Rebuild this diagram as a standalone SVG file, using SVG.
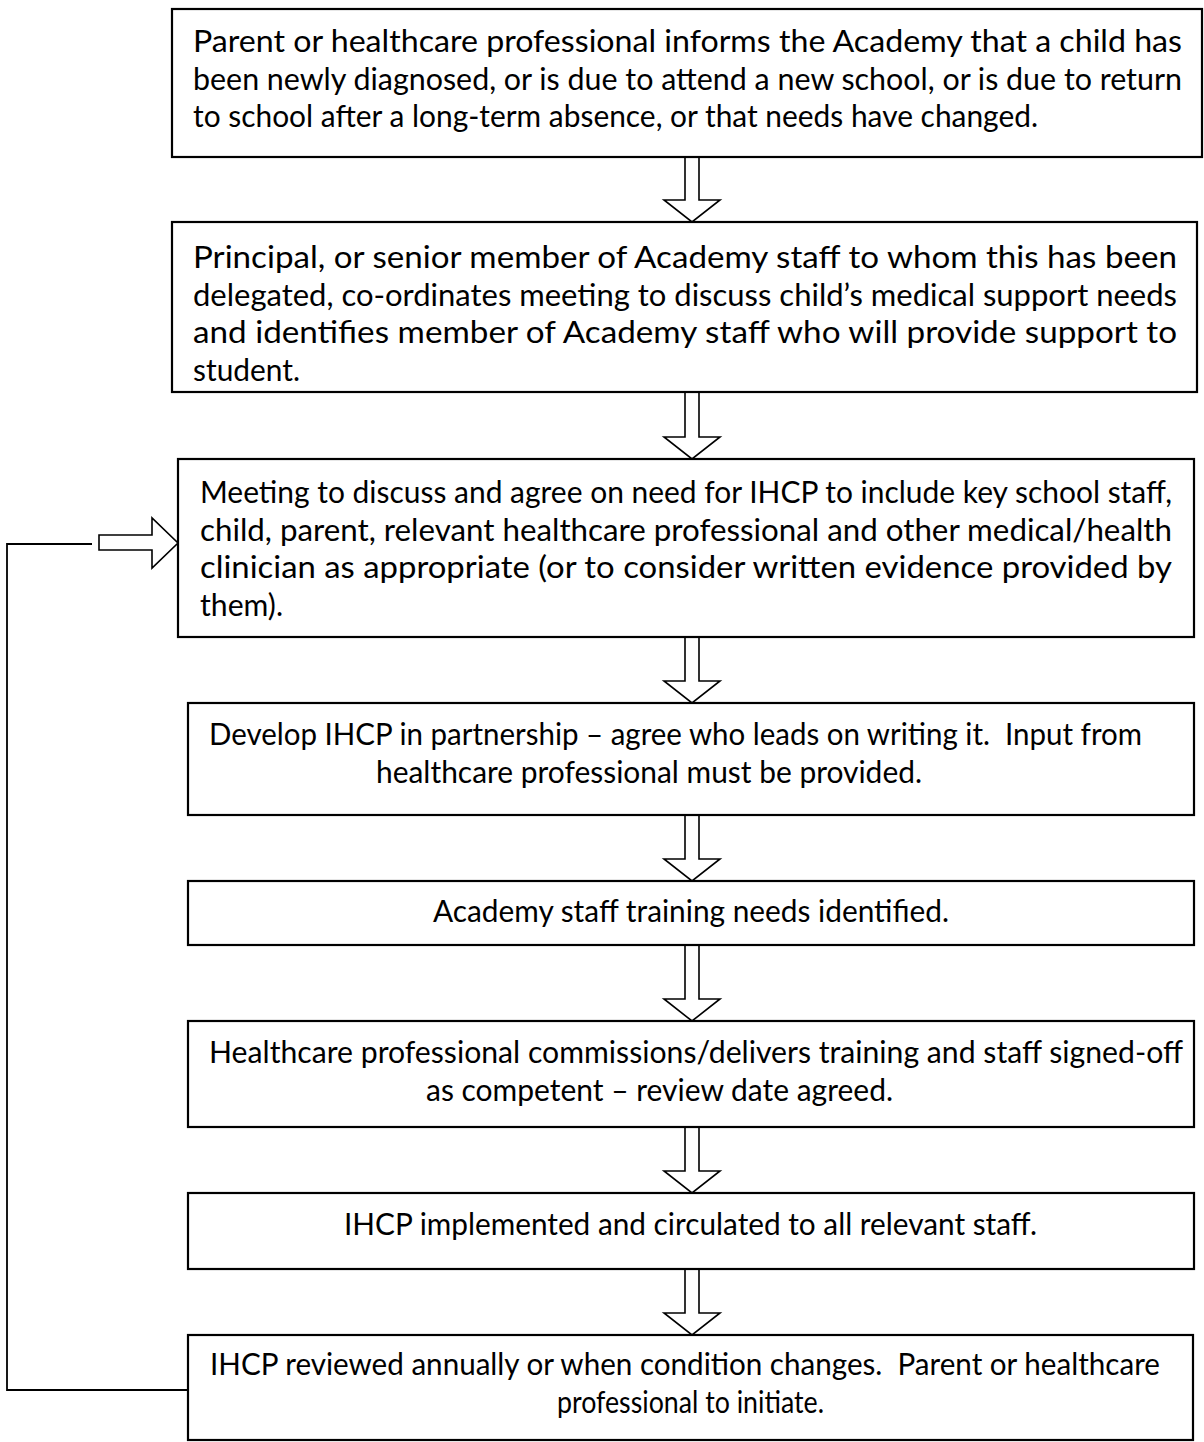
<svg xmlns="http://www.w3.org/2000/svg" width="1204" height="1442" viewBox="0 0 1204 1442">
<style>
.box{fill:#fff;stroke:#000;stroke-width:2.2}
.arr{fill:#fff;stroke:#000;stroke-width:1.6;stroke-linejoin:miter}
.ln{fill:none;stroke:#000;stroke-width:1.8}
text{font-family:Lato,"Liberation Sans",sans-serif;font-size:30px;fill:#000}
</style>
<rect width="1204" height="1442" fill="#fff"/>
<g id="connectors">
<path class="arr" d="M685,157 V200 H664 L692,222 L720,200 H699 V157"/>
<path class="arr" d="M685,392 V437 H664 L692,459 L720,437 H699 V392"/>
<path class="arr" d="M685,637 V681 H664 L692,703 L720,681 H699 V637"/>
<path class="arr" d="M685,815 V859 H664 L692,881 L720,859 H699 V815"/>
<path class="arr" d="M685,945 V999 H664 L692,1021 L720,999 H699 V945"/>
<path class="arr" d="M685,1127 V1171 H664 L692,1193 L720,1171 H699 V1127"/>
<path class="arr" d="M685,1269 V1313 H664 L692,1335 L720,1313 H699 V1269"/>
<polyline class="ln" points="188,1390 7,1390 7,544 92,544"/>
<path class="arr" d="M99,535 H152 V518 L178,543 L152,568 V550 H99 Z"/>
</g>
<g id="n1">
<rect class="box" x="172" y="9" width="1030" height="148"/>
<text x="193" y="52" textLength="989" lengthAdjust="spacingAndGlyphs">Parent or healthcare professional informs the Academy that a child has</text>
<text x="193" y="90" textLength="989" lengthAdjust="spacingAndGlyphs">been newly diagnosed, or is due to attend a new school, or is due to return</text>
<text x="193" y="127" textLength="845" lengthAdjust="spacingAndGlyphs">to school after a long-term absence, or that needs have changed.</text>
</g>
<g id="n2">
<rect class="box" x="172" y="222" width="1025" height="170"/>
<text x="193" y="268" textLength="984" lengthAdjust="spacingAndGlyphs">Principal, or senior member of Academy staff to whom this has been</text>
<text x="193" y="306" textLength="984" lengthAdjust="spacingAndGlyphs">delegated, co-ordinates meeting to discuss child’s medical support needs</text>
<text x="193" y="343" textLength="984" lengthAdjust="spacingAndGlyphs">and identifies member of Academy staff who will provide support to</text>
<text x="193" y="381" textLength="107" lengthAdjust="spacingAndGlyphs">student.</text>
</g>
<g id="n3">
<rect class="box" x="178" y="459" width="1016" height="178"/>
<text x="200" y="503" textLength="972" lengthAdjust="spacingAndGlyphs">Meeting to discuss and agree on need for IHCP to include key school staff,</text>
<text x="200" y="541" textLength="972" lengthAdjust="spacingAndGlyphs">child, parent, relevant healthcare professional and other medical/health</text>
<text x="200" y="578" textLength="972" lengthAdjust="spacingAndGlyphs">clinician as appropriate (or to consider written evidence provided by</text>
<text x="200" y="616" textLength="83" lengthAdjust="spacingAndGlyphs">them).</text>
</g>
<g id="n4">
<rect class="box" x="188" y="703" width="1006" height="112"/>
<text x="209" y="745" textLength="933" lengthAdjust="spacingAndGlyphs">Develop IHCP in partnership – agree who leads on writing it.&#160; Input from</text>
<text x="376" y="783" textLength="546" lengthAdjust="spacingAndGlyphs">healthcare professional must be provided.</text>
</g>
<g id="n5">
<rect class="box" x="188" y="881" width="1006" height="64"/>
<text x="433" y="922" textLength="516" lengthAdjust="spacingAndGlyphs">Academy staff training needs identified.</text>
</g>
<g id="n6">
<rect class="box" x="188" y="1021" width="1006" height="106"/>
<text x="209" y="1063" textLength="974" lengthAdjust="spacingAndGlyphs">Healthcare professional commissions/delivers training and staff signed-off</text>
<text x="426" y="1101" textLength="467" lengthAdjust="spacingAndGlyphs">as competent – review date agreed.</text>
</g>
<g id="n7">
<rect class="box" x="188" y="1193" width="1006" height="76"/>
<text x="344" y="1235" textLength="693" lengthAdjust="spacingAndGlyphs">IHCP implemented and circulated to all relevant staff.</text>
</g>
<g id="n8">
<rect class="box" x="188" y="1335" width="1005" height="105"/>
<text x="210" y="1375" textLength="950" lengthAdjust="spacingAndGlyphs">IHCP reviewed annually or when condition changes.&#160; Parent or healthcare</text>
<text x="557" y="1413" textLength="267" lengthAdjust="spacingAndGlyphs">professional to initiate.</text>
</g>
</svg>
